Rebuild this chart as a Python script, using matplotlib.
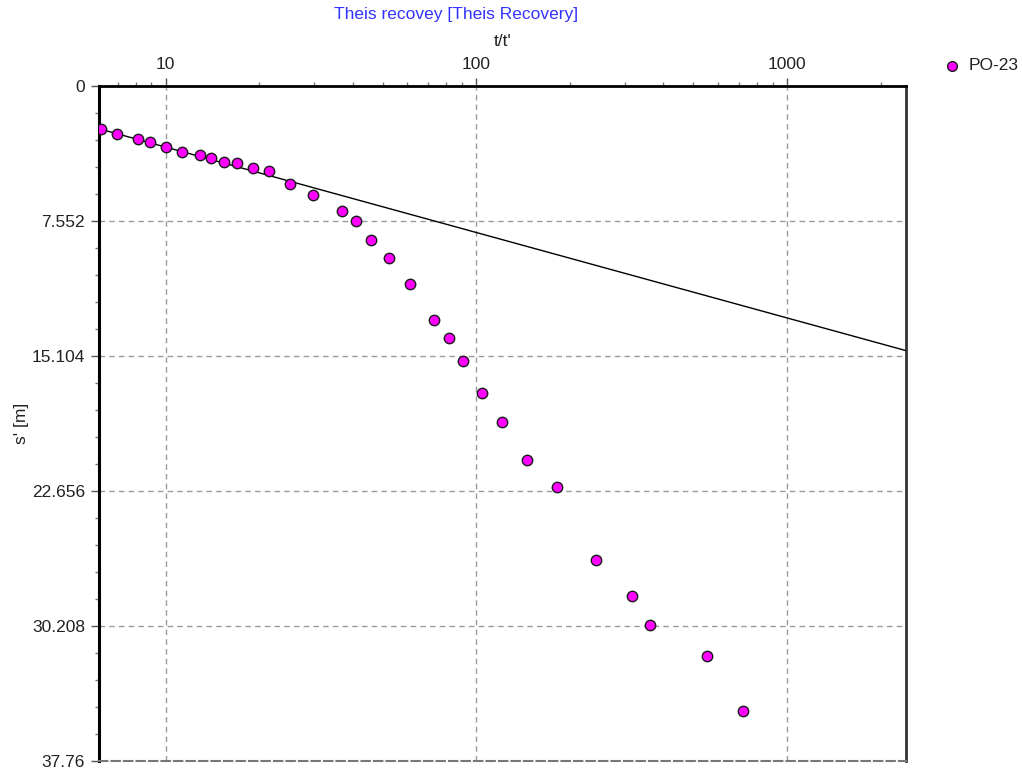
import numpy as np
import matplotlib
matplotlib.use("Agg")
import matplotlib.pyplot as plt
from matplotlib.ticker import FixedLocator, NullFormatter, LogLocator

plt.rcParams['font.family'] = ['Liberation Sans', 'DejaVu Sans']

t_ratio = [6.21, 6.99, 8.15, 8.92, 10.04, 11.29, 12.93, 14.03, 15.41, 16.97,
           19.05, 21.51, 25.06, 29.88, 36.97, 41.10, 45.67, 52.21, 61.17, 73.08,
           81.43, 90.60, 104.5, 120.9, 145.6, 182.3, 242.1, 316.2, 361.3, 554.0,
           723.6]
s_resid = [2.44, 2.69, 3.00, 3.15, 3.41, 3.73, 3.88, 4.03, 4.27, 4.31,
           4.62, 4.77, 5.50, 6.11, 7.03, 7.57, 8.65, 9.66, 11.11, 13.12,
           14.13, 15.42, 17.21, 18.81, 20.96, 22.43, 26.52, 28.53, 30.15, 31.92,
           34.99]

# fitted Theis recovery straight line (end points)
fit_t = [6.10, 2416]
fit_s = [2.41, 14.82]

y_ticks = [0, 7.552, 15.104, 22.656, 30.208, 37.76]
y_labels = ["0", "7.552", "15.104", "22.656", "30.208", "37.76"]
x_ticks = [10, 100, 1000]
x_labels = ["10", "100", "1000"]

fig = plt.figure(figsize=(10.22, 7.71), dpi=100)
ax = fig.add_axes([99 / 1022, 1 - 760.7 / 771, 807 / 1022, 675 / 771])

ax.plot(fit_t, fit_s, color="black", linewidth=1.0, zorder=3)
ax.plot(t_ratio, s_resid, linestyle="none", marker="o", markersize=7.5,
        markerfacecolor="#ff00ff", markeredgecolor="#1a1a1a",
        markeredgewidth=1.0, zorder=4, clip_on=True)

ax.set_xscale("log")
ax.set_xlim(6.10, 2416)
ax.set_ylim(37.76, 0)

# x axis on top
ax.xaxis.tick_top()
ax.xaxis.set_label_position("top")
ax.xaxis.set_major_locator(FixedLocator(x_ticks))
ax.set_xticklabels(x_labels)
ax.xaxis.set_minor_locator(LogLocator(base=10, subs=np.arange(2, 10)))
ax.xaxis.set_minor_formatter(NullFormatter())

ax.yaxis.set_major_locator(FixedLocator(y_ticks))
ax.set_yticklabels(y_labels)
minor_y = [y_ticks[0] + i * 7.552 / 5 for i in range(26) if i % 5 != 0]
ax.yaxis.set_minor_locator(FixedLocator(minor_y))

ax.tick_params(axis="both", which="major", length=6, width=1, colors="#555555",
               labelcolor="#222222", labelsize=12.5, direction="out", pad=4)
ax.tick_params(axis="both", which="minor", length=3, width=1, colors="#777777",
               direction="out")
ax.tick_params(axis="x", which="both", top=True, bottom=False)
ax.tick_params(axis="y", which="both", left=True, right=False)

ax.grid(True, which="major", color="#9a9a9a", linestyle=(0, (4, 3)), linewidth=1.0)

ax.spines["left"].set_linewidth(2.2)
ax.spines["left"].set_color("black")
ax.spines["right"].set_linewidth(2.0)
ax.spines["right"].set_color("#333333")
ax.spines["top"].set_linewidth(2.0)
ax.spines["top"].set_color("black")
ax.spines["top"].set_linestyle((0, (3, 1)))
ax.spines["bottom"].set_linewidth(1.5)
ax.spines["bottom"].set_color("#777777")
ax.spines["bottom"].set_linestyle((0, (4, 2)))

ax.set_xlabel("t/t'", fontsize=12.5, color="#222222", labelpad=8)
ax.set_ylabel("s' [m]", fontsize=12.5, color="#222222", labelpad=2)

fig.text(456 / 1022, 1 - 15 / 771, "Theis recovey [Theis Recovery]",
         color="#3333ff", fontsize=12.5, ha="center", va="center")

# legend outside the axes
ax.plot([952 / 1022], [1 - 66 / 771], transform=fig.transFigure, marker="o",
        markersize=7, markerfacecolor="#ff00ff", markeredgecolor="#1a1a1a",
        markeredgewidth=1.0, linestyle="none", clip_on=False)
fig.text(969 / 1022, 1 - 66 / 771, "PO-23", fontsize=12.5, color="#222222",
         ha="left", va="center")

fig.savefig("out.png", dpi=100)
